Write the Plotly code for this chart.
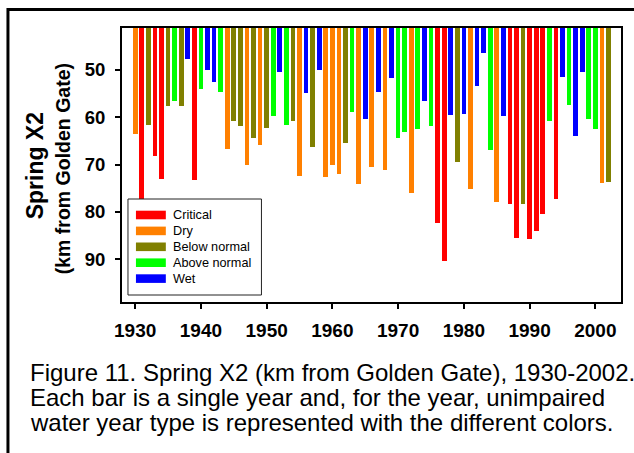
import plotly.graph_objects as go

# Spring X2 position (km from Golden Gate) by year, with unimpaired water year type
years = list(range(1930, 2003))
x2_km = [
    63.5, 80.0, 61.7, 68.3, 73.0, 57.7, 56.7, 57.6, 47.7, 73.3,
    54.0, 50.0, 52.5, 54.6, 66.8, 60.9, 61.9, 70.2, 64.4, 65.9,
    62.3, 59.8, 50.5, 61.7, 60.9, 72.4, 54.9, 66.4, 50.0, 72.6,
    70.2, 71.9, 65.5, 58.9, 74.1, 60.3, 70.6, 54.8, 71.2, 51.8,
    64.3, 63.1, 76.0, 62.4, 56.7, 61.8, 82.4, 90.4, 59.6, 69.4,
    59.4, 75.1, 53.5, 46.5, 67.0, 77.9, 59.8, 78.3, 85.5, 78.3,
    85.7, 84.1, 80.5, 60.8, 77.3, 51.6, 57.5, 63.9, 50.4, 60.3,
    62.5, 73.9, 73.6,
]
year_type = [
    "D", "C", "BN", "C", "C", "BN", "AN", "BN", "W", "C",
    "AN", "W", "W", "AN", "D", "BN", "BN", "D", "BN", "D",
    "BN", "AN", "W", "AN", "BN", "D", "W", "BN", "W", "D",
    "D", "D", "BN", "AN", "D", "W", "D", "W", "D", "W",
    "AN", "AN", "D", "AN", "W", "AN", "C", "C", "W", "BN",
    "W", "D", "W", "W", "AN", "D", "W", "C", "C", "BN",
    "C", "C", "C", "AN", "C", "W", "AN", "W", "W", "AN",
    "AN", "D", "BN",
]
type_codes = ["C", "D", "BN", "AN", "W"]
type_names = ["Critical", "Dry", "Below normal", "Above normal", "Wet"]
type_colors = ["#FF0000", "#FF8000", "#808000", "#00FF00", "#0000FF"]
y_ticks = [50, 60, 70, 80, 90]
x_ticks = [1930, 1940, 1950, 1960, 1970, 1980, 1990, 2000]

W, H = 634, 453
ML, MR, MT, MB = 122, 11, 28, 151
PW, PH = W - ML - MR, H - MT - MB
Y_TOP, Y_BOTTOM = 41.2, 99.0
FONT = "Arial, Liberation Sans, sans-serif"


def px_x(px):
    return (px - ML) / PW


def px_y(py):
    return (H - MB - py) / PH


fig = go.Figure()
for code, name, color in zip(type_codes, type_names, type_colors):
    xs = [yr for yr, t in zip(years, year_type) if t == code]
    vs = [v for v, t in zip(x2_km, year_type) if t == code]
    fig.add_trace(go.Bar(
        x=xs, y=[v - Y_TOP for v in vs], base=Y_TOP, name=name,
        marker=dict(color=color, line=dict(width=0)), width=0.72,
        showlegend=False,
    ))

shapes = []
annotations = []

# outer frame (left and top edges)
shapes.append(dict(type="line", xref="paper", yref="paper",
                   x0=px_x(7.5), x1=px_x(700), y0=px_y(9.5), y1=px_y(9.5),
                   line=dict(color="black", width=3)))
shapes.append(dict(type="line", xref="paper", yref="paper",
                   x0=px_x(7.5), x1=px_x(7.5), y0=px_y(8), y1=px_y(500),
                   line=dict(color="black", width=3)))

# legend box with wide colour swatches
shapes.append(dict(type="rect", xref="paper", yref="paper",
                   x0=px_x(128), x1=px_x(262), y0=px_y(199), y1=px_y(295),
                   line=dict(color="#222222", width=1), fillcolor="white"))
row_y = [215, 230.9, 246.8, 262.7, 278.6]
for ry, name, color in zip(row_y, type_names, type_colors):
    shapes.append(dict(type="rect", xref="paper", yref="paper",
                       x0=px_x(136), x1=px_x(166), y0=px_y(ry + 4.3), y1=px_y(ry - 4.3),
                       line=dict(width=0), fillcolor=color))
    annotations.append(dict(xref="paper", yref="paper", x=px_x(171), y=px_y(ry),
                            xanchor="left", yanchor="middle", showarrow=False,
                            text=name, font=dict(family=FONT, size=12.7, color="black")))

# y-axis title
annotations.append(dict(xref="paper", yref="paper", x=px_x(35), y=px_y(166),
                        xanchor="center", yanchor="middle", showarrow=False, textangle=-90,
                        text="<b>Spring X2</b>", font=dict(family=FONT, size=23, color="black")))
annotations.append(dict(xref="paper", yref="paper", x=px_x(63), y=px_y(169),
                        xanchor="center", yanchor="middle", showarrow=False, textangle=-90,
                        text="<b>(km from Golden Gate)</b>", font=dict(family=FONT, size=19.5, color="black")))

# caption
caption = [
    "Figure 11. Spring X2 (km from Golden Gate), 1930-2002.",
    "Each bar is a single year and, for the year, unimpaired",
    "water year type is represented with the different colors.",
]
for cy, line in zip([372, 397, 422], caption):
    annotations.append(dict(xref="paper", yref="paper", x=px_x(28), y=px_y(cy),
                            xanchor="left", yanchor="middle", showarrow=False,
                            text=line, font=dict(family=FONT, size=24, color="black")))

fig.update_layout(
    width=W, height=H,
    margin=dict(l=ML, r=MR, t=MT, b=MB, pad=0),
    paper_bgcolor="white", plot_bgcolor="white",
    barmode="overlay", bargap=0,
    shapes=shapes, annotations=annotations,
    xaxis=dict(range=[1928.0, 2003.9], tickvals=x_ticks, ticktext=[str(t) for t in x_ticks],
               showgrid=False, zeroline=False, showline=True, mirror=True,
               linecolor="black", linewidth=2, ticks="outside", ticklen=5,
               tickwidth=2, tickcolor="black", ticklabelstandoff=5,
               tickfont=dict(family=FONT, size=19, color="black", weight="bold")),
    yaxis=dict(range=[Y_BOTTOM, Y_TOP], tickvals=y_ticks, ticktext=[str(t) for t in y_ticks],
               showgrid=False, zeroline=False, showline=True, mirror=True,
               linecolor="black", linewidth=2, ticks="outside", ticklen=5,
               tickwidth=2, tickcolor="black", ticklabelstandoff=6,
               tickfont=dict(family=FONT, size=18.5, color="black", weight="bold")),
)

fig.write_html("out.html")
